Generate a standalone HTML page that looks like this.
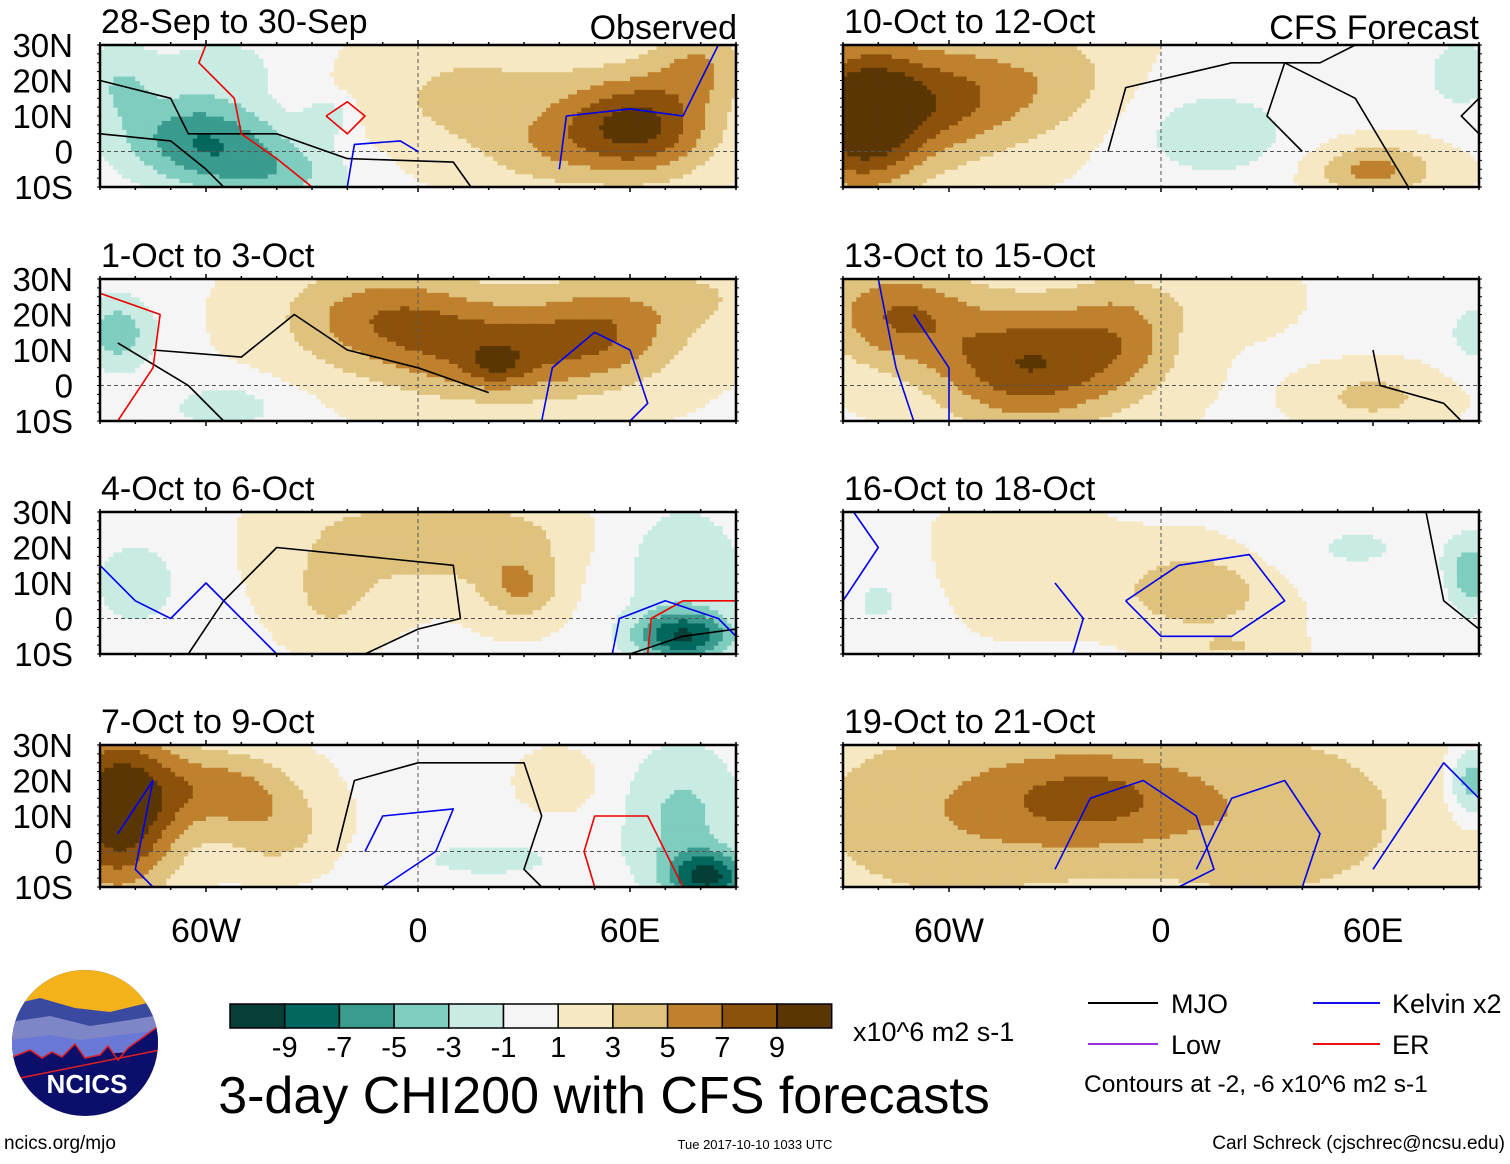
<!DOCTYPE html>
<html><head><meta charset="utf-8">
<style>
html,body{margin:0;padding:0;background:#fff;}
body{width:1510px;height:1159px;position:relative;overflow:hidden;font-family:"Liberation Sans",Arial,sans-serif;}
svg text{font-family:"Liberation Sans",Arial,sans-serif;}
</style></head>
<body>
<svg id="chart" width="1510" height="1159" viewBox="0 0 1510 1159" xmlns="http://www.w3.org/2000/svg">
  <g id="panels"></g>
  <g>
    <defs><clipPath id="lc"><circle cx="85" cy="1043" r="73"/></clipPath></defs>
    <g clip-path="url(#lc)">
      <rect x="10" y="968" width="150" height="150" fill="#0b0f6b"/>
      <rect x="10" y="968" width="150" height="45" fill="#f3b21a"/>
      <path d="M10,1005 L40,998 L75,1008 L110,1012 L160,1000 L160,1040 L10,1050Z" fill="#3a4aa0"/>
      <path d="M10,1022 L50,1016 L90,1026 L130,1020 L160,1015 L160,1050 L10,1060Z" fill="#7f86c8"/>
      <path d="M10,1040 L50,1035 L80,1040 L160,1030 L160,1045 L10,1070Z" fill="#6a78d6"/>
      <path d="M10,1058 L30,1050 L42,1058 L52,1052 L62,1057 L75,1044 L85,1058 L100,1055 L108,1046 L118,1060 L128,1048 L160,1025 L160,1050 L10,1080Z" fill="#0b0f6b" stroke="#e02020" stroke-width="1.5"/>
    </g>
    <text x="87" y="1093" text-anchor="middle" font-size="26" font-weight="bold" fill="#fff">NCICS</text>
  </g>
  <text x="4" y="1149" font-size="19">ncics.org/mjo</text>
  <text x="755" y="1149" font-size="13" text-anchor="middle">Tue 2017-10-10 1033 UTC</text>
  <text x="1505" y="1149" font-size="19" text-anchor="end">Carl Schreck (cjschrec@ncsu.edu)</text>
  <text x="604" y="1113" font-size="52" text-anchor="middle">3-day CHI200 with CFS forecasts</text>
  <g id="colorbar"></g>
  <text x="853" y="1041" font-size="27">x10^6 m2 s-1</text>
  <g>
    <line x1="1088" y1="1003" x2="1158" y2="1003" stroke="#000" stroke-width="2"/>
    <text x="1171" y="1013" font-size="27">MJO</text>
    <line x1="1313" y1="1003" x2="1380" y2="1003" stroke="#1010ee" stroke-width="2"/>
    <text x="1392" y="1013" font-size="27">Kelvin x2</text>
    <line x1="1088" y1="1044" x2="1158" y2="1044" stroke="#9b30e0" stroke-width="2"/>
    <text x="1171" y="1054" font-size="27">Low</text>
    <line x1="1313" y1="1044" x2="1380" y2="1044" stroke="#ee1010" stroke-width="2"/>
    <text x="1392" y="1054" font-size="27">ER</text>
    <text x="1084" y="1092" font-size="24.5">Contours at -2, -6 x10^6 m2 s-1</text>
  </g>
</svg>
<script>
// ---- data ----
const binEdges = [-9,-7,-5,-3,-1,1,3,5,7,9];
const binColors = ["#053f36","#02675c","#3a9b8f","#7fcdbf","#c8ebe3","#f5f5f5","#f6e8c3","#dfc27d","#bf812d","#8c510a","#5a3605"];
const panelTitles = ["28-Sep to 30-Sep","1-Oct to 3-Oct","4-Oct to 6-Oct","7-Oct to 9-Oct","10-Oct to 12-Oct","13-Oct to 15-Oct","16-Oct to 18-Oct","19-Oct to 21-Oct"];
const latTicks = [30,20,10,0,-10];
const latLabels = ["30N","20N","10N","0","10S"];
const lonTicks = [-60,0,60];
const lonLabels = ["60W","0","60E"];
// background level per panel
const panelBase = [0.5, 0.8, 0.8, 0.5, 0.8, 0.8, 0.8, 2.2];
const blobs0 = [[-62,4,-7,16,9],[-40,-6,-4,16,7],[-85,20,-3,8,8],[-55,25,-2,14,6],[-25,10,-3,5,4],[62,7,9,15,10],[15,15,3,25,14],[80,25,4,10,8],[35,0,2,12,8]];
const blobs1 = [[-85,15,-5,8,8],[-55,-6,-3,12,5],[-10,20,5,20,10],[25,10,6,25,10],[22,6,3,6,4],[55,18,4,15,10],[80,25,2,10,6]];
const blobs2 = [[-80,10,-3,10,10],[-20,20,2,15,12],[15,22,4,20,8],[29,8,4,8,6],[75,15,-3,15,15],[75,-5,-9,10,5],[-25,5,2,8,8]];
const blobs3 = [[-85,12,11,12,16],[-55,18,5,15,8],[-40,5,3,12,8],[20,-2,-2,20,5],[75,10,-4,12,15],[82,-7,-9,8,5],[40,20,2,8,6]];
const blobs4 = [[-85,10,11,12,14],[-60,15,6,15,12],[-30,20,3,15,12],[15,5,-3,18,10],[60,-5,5,12,5],[85,22,-3,8,8]];
const blobs5 = [[-38,6,8,18,12],[-75,20,6,15,10],[-10,15,4,12,12],[20,25,2,10,6],[60,-3,3,12,5],[88,15,-3,5,6]];
const blobs6 = [[-80,5,-2,10,10],[-40,15,2,15,10],[10,8,4,15,8],[55,20,-2,20,8],[88,12,-5,5,8],[20,-8,2,10,3]];
const blobs7 = [[-20,15,5,22,10],[-60,10,2,25,15],[30,10,2,25,15],[88,20,-6,5,8]];
const panelBlobs = [blobs0,blobs1,blobs2,blobs3,blobs4,blobs5,blobs6,blobs7];
// contours: [color, [[lon,lat],...]]
const contours0 = [["#000",[[-90,5],[-70,3],[-60,-5],[-55,-10]]],["#000",[[-90,20],[-70,15],[-65,5],[-40,5],[-20,-2],[10,-3],[15,-10]]],["#e00",[[-60,30],[-62,25],[-52,15],[-50,5],[-40,-2],[-30,-10]]],["#e00",[[-26,10],[-20,14],[-15,10],[-20,5],[-26,10]]],["#00e",[[-20,-10],[-18,2],[-5,3],[0,0]]],["#00e",[[40,-5],[42,10],[60,12],[75,10],[85,30]]]];
const contours1 = [["#000",[[-75,10],[-50,8],[-35,20],[-20,10],[0,5],[20,-2]]],["#000",[[-85,12],[-65,0],[-55,-10]]],["#e00",[[-90,26],[-73,20],[-75,5],[-85,-10]]],["#00e",[[35,-10],[38,5],[50,15],[60,10],[65,-5],[60,-10]]]];
const contours2 = [["#000",[[-65,-10],[-55,5],[-40,20],[-20,18],[10,15],[12,0],[0,-3],[-15,-10]]],["#00e",[[-90,15],[-80,5],[-70,0],[-60,10],[-40,-10]]],["#e00",[[65,-10],[66,0],[75,5],[90,5]]],["#000",[[60,-10],[75,-5],[90,-3]]],["#00e",[[55,-10],[57,0],[70,5],[85,0],[90,-5]]]];
const contours3 = [["#000",[[-23,0],[-18,20],[0,25],[30,25],[35,10],[30,-5],[35,-10]]],["#00e",[[-85,5],[-75,20],[-80,-5],[-75,-10]]],["#e00",[[50,-10],[47,0],[50,10],[65,10],[70,0],[75,-10]]],["#00e",[[-15,0],[-10,10],[10,12],[5,0],[-10,-10]]]];
const contours4 = [["#000",[[-15,0],[-10,18],[20,25],[45,25],[55,30]]],["#000",[[40,0],[30,10],[35,25],[55,15],[70,-10]]],["#000",[[90,15],[85,10],[90,5]]]];
const contours5 = [["#00e",[[-80,30],[-75,5],[-70,-10]]],["#00e",[[-70,20],[-60,5],[-60,-10]]],["#000",[[60,10],[62,0],[80,-5],[85,-10]]]];
const contours6 = [["#00e",[[-90,5],[-80,20],[-87,30]]],["#00e",[[-30,10],[-22,0],[-25,-10]]],["#00e",[[-10,5],[5,15],[25,18],[35,5],[20,-5],[0,-5],[-10,5]]],["#000",[[75,30],[80,5],[90,-3]]]];
const contours7 = [["#00e",[[-30,-5],[-20,15],[-5,20],[10,10],[15,-5],[5,-10]]],["#00e",[[10,-5],[20,15],[35,20],[45,5],[40,-10]]],["#00e",[[60,-5],[70,10],[80,25],[90,15]]]];
const panelContours = [contours0,contours1,contours2,contours3,contours4,contours5,contours6,contours7];

// ---- geometry ----
const NS = "http://www.w3.org/2000/svg";
const lonMin=-90, lonMax=90, latMax=30, latMin=-10;
const panelX = [100, 843];
const panelY = [45, 279, 512, 745];
const pw = 636, ph = 142;
function mk(tag, attrs, parent){const e=document.createElementNS(NS,tag);for(const k in attrs)e.setAttribute(k,attrs[k]);parent.appendChild(e);return e;}
function colorFor(v){let i=0;while(i<binEdges.length && v>=binEdges[i])i++;return binColors[i];}
const root=document.getElementById('panels');
panelTitles.forEach((title,p)=>{
  const col = p<4?0:1, row=p%4;
  const x0=panelX[col], y0=panelY[row];
  const xs = lon => x0 + (lon-lonMin)/(lonMax-lonMin)*pw;
  const ys = lat => y0 + (latMax-lat)/(latMax-latMin)*ph;
  const g = mk('g',{},root);
  
  
  const blobs = panelBlobs[p];
  const step=1.25;
  for(let lon=lonMin; lon<lonMax-0.01; lon+=step){
    for(let lat=latMin; lat<latMax-0.01; lat+=step){
      const cl=lon+step/2, ca=lat+step/2;
      let v=panelBase[p];
      blobs.forEach(b=>{const dx=(cl-b[0])/b[3], dy=(ca-b[1])/b[4]; v+=b[2]*Math.exp(-(dx*dx+dy*dy)/2);});
      const r=mk('rect',{x:xs(lon).toFixed(1),y:ys(lat+step).toFixed(1),width:(xs(lon+step)-xs(lon)+0.6).toFixed(1),height:(ys(lat)-ys(lat+step)+0.6).toFixed(1),fill:colorFor(v)},g);
      
      
    }
  }
  mk('line',{x1:x0,y1:ys(0),x2:x0+pw,y2:ys(0),stroke:'#555','stroke-width':1,'stroke-dasharray':'4,3'},g);
  mk('line',{x1:xs(0),y1:y0,x2:xs(0),y2:y0+ph,stroke:'#555','stroke-width':1,'stroke-dasharray':'4,3'},g);
  panelContours[p].forEach(c=>{
    const d = c[1].map((pt,i)=>(i?'L':'M')+xs(pt[0]).toFixed(1)+','+ys(pt[1]).toFixed(1)).join(' ');
    const path=mk('path',{d:d,fill:'none',stroke:c[0],'stroke-width':1.6,'stroke-linejoin':'round'},g);
    
    
  });
  const fr=mk('rect',{x:x0,y:y0,width:pw,height:ph,fill:'none',stroke:'#000','stroke-width':2.5},g);
  
  
  for(let lon=lonMin; lon<=lonMax; lon+=10){
    const big = lon%60===0;
    mk('line',{x1:xs(lon),y1:y0,x2:xs(lon),y2:y0-(big?5:3),stroke:'#000','stroke-width':1.5},g);
    mk('line',{x1:xs(lon),y1:y0+ph,x2:xs(lon),y2:y0+ph+(big?5:3),stroke:'#000','stroke-width':1.5},g);
  }
  for(let lat=latMin; lat<=latMax; lat+=2.5){
    mk('line',{x1:x0,y1:ys(lat),x2:x0-3,y2:ys(lat),stroke:'#000','stroke-width':1},g);
    mk('line',{x1:x0+pw,y1:ys(lat),x2:x0+pw+3,y2:ys(lat),stroke:'#000','stroke-width':1},g);
  }
  const t=mk('text',{x:x0+1,y:y0-12,'font-size':34},g); t.textContent=title;
  
  
  if(col===0){
    latTicks.forEach((lat,i)=>{
      const lt=mk('text',{x:x0-27,y:ys(lat)+12,'font-size':33,'text-anchor':'end'},g); lt.textContent=latLabels[i];
      
      
    });
  }
  if(row===3){
    lonTicks.forEach((lon,i)=>{
      const lt=mk('text',{x:xs(lon),y:y0+ph+55,'font-size':34,'text-anchor':'middle'},g); lt.textContent=lonLabels[i];
      
      
    });
  }
  if(p===0){const o=mk('text',{x:x0+pw+1,y:y0-6,'font-size':34,'text-anchor':'end'},g);o.textContent='Observed';
    
    }
  if(p===4){const o=mk('text',{x:x0+pw,y:y0-6,'font-size':34,'text-anchor':'end'},g);o.textContent='CFS Forecast';
    
    }
});
const cb=document.getElementById('colorbar');
const cbx=230, cby=1004, cbw=54.7, cbh=24;
binColors.forEach((c,i)=>{
  const r=mk('rect',{x:cbx+i*cbw,y:cby,width:cbw,height:cbh,fill:c,stroke:'#000','stroke-width':1.5},cb);
  
  
});
binEdges.forEach((v,i)=>{
  const t=mk('text',{x:cbx+(i+1)*cbw,y:1057,'font-size':29,'text-anchor':'middle'},cb); t.textContent=String(v);
  
  
});
</script>
</body></html>
